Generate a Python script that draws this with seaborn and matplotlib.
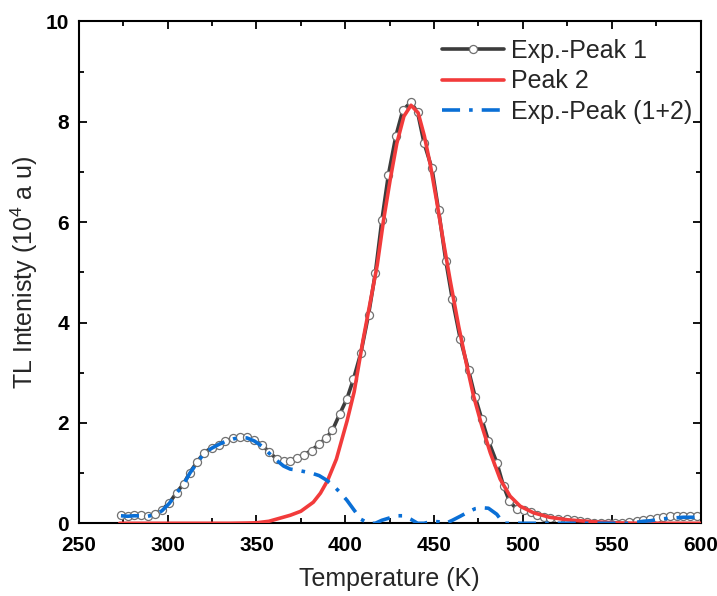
import numpy as np
import pandas as pd
import matplotlib
matplotlib.use("Agg")
import matplotlib.pyplot as plt
import seaborn as sns
from matplotlib.ticker import MultipleLocator

# ---- data ----
temp_exp = [273.7, 277.5, 281.0, 285.0, 288.7, 293.0, 296.8, 301.0, 305.0, 309.0,
            312.5, 316.5, 320.6, 325.0, 328.7, 332.4, 336.8, 340.9, 344.7, 348.8,
            353.3, 357.0, 361.5, 365.3, 369.0, 372.8, 376.9, 381.0, 385.3, 389.0,
            392.7, 396.9, 400.9, 404.6, 408.8, 413.1, 416.9, 420.6, 424.3, 428.5,
            432.4, 436.9, 440.7, 444.4, 448.8, 452.5, 456.6, 460.3, 464.7, 469.4,
            473.1, 476.9, 480.6, 485.3, 489.1, 492.4, 496.6, 500.7, 504.6, 508.2,
            511.6, 515.5, 519.5, 524.7, 528.5, 532.0, 536.0, 540.0, 544.0, 548.0,
            552.0, 556.0, 560.0, 564.0, 567.8, 571.6, 575.4, 579.1, 582.9, 586.6,
            590.4, 594.1, 597.9]

exp_peak1 = [0.16, 0.15, 0.16, 0.17, 0.15, 0.18, 0.27, 0.41, 0.61, 0.79,
             1.01, 1.22, 1.41, 1.51, 1.57, 1.64, 1.69, 1.71, 1.71, 1.65,
             1.56, 1.42, 1.28, 1.24, 1.25, 1.30, 1.37, 1.45, 1.58, 1.69,
             1.85, 2.18, 2.48, 2.87, 3.40, 4.16, 4.98, 6.04, 6.95, 7.72,
             8.23, 8.39, 8.19, 7.57, 7.07, 6.24, 5.23, 4.46, 3.68, 3.05,
             2.52, 2.07, 1.64, 1.21, 0.74, 0.44, 0.28, 0.26, 0.23, 0.17,
             0.13, 0.10, 0.08, 0.09, 0.07, 0.04, 0.02, 0.01, 0.00, 0.00,
             0.00, 0.01, 0.03, 0.05, 0.07, 0.08, 0.11, 0.13, 0.14, 0.15,
             0.15, 0.15, 0.14]

exp_peak12 = [0.15, 0.14, 0.15, 0.15, 0.14, 0.17, 0.25, 0.40, 0.60, 0.78,
              1.00, 1.20, 1.40, 1.50, 1.57, 1.63, 1.68, 1.71, 1.70, 1.64,
              1.53, 1.40, 1.25, 1.14, 1.08, 1.06, 1.03, 1.00, 0.95, 0.87,
              0.77, 0.62, 0.46, 0.28, 0.08, 0.00, 0.00, 0.06, 0.10, 0.15,
              0.15, 0.08, 0.00, 0.00, 0.04, 0.03, 0.00, 0.06, 0.14, 0.23,
              0.29, 0.31, 0.30, 0.18, 0.00, 0.00, 0.00, 0.00, 0.00, 0.00,
              0.00, 0.00, 0.00, 0.00, 0.00, 0.00, 0.00, 0.00, 0.00, 0.00,
              0.00, 0.00, 0.00, 0.02, 0.04, 0.05, 0.07, 0.09, 0.10, 0.11,
              0.12, 0.12, 0.12]

temp_fit = [273.0, 300.0, 320.0, 335.0, 345.0, 350.0, 357.0, 363.0, 369.0, 375.0,
            382.0, 386.0, 390.0, 395.0, 401.0, 405.0, 410.0, 414.0, 418.0, 421.5,
            425.3, 429.0, 433.0, 437.0, 441.0, 444.5, 448.0, 451.6, 455.3, 459.1,
            463.8, 468.5, 472.2, 476.9, 481.6, 487.2, 492.8, 498.5, 505.9, 515.0,
            525.0, 532.0, 540.0, 551.0, 565.0, 600.0]
peak2 = [0.00, 0.00, 0.00, 0.00, 0.005, 0.01, 0.04, 0.10, 0.16, 0.24,
         0.42, 0.60, 0.85, 1.28, 2.04, 2.62, 3.65, 4.40, 5.15, 6.03,
         6.85, 7.57, 8.11, 8.33, 8.18, 7.72, 7.12, 6.39, 5.60, 4.83,
         3.93, 3.13, 2.54, 1.94, 1.41, 0.88, 0.54, 0.34, 0.21, 0.12,
         0.07, 0.05, 0.03, 0.01, 0.00, 0.00]

x_ticks = [250, 300, 350, 400, 450, 500, 550, 600]
y_ticks = [0, 2, 4, 6, 8, 10]

df_exp = pd.DataFrame({"T": temp_exp, "I": exp_peak1, "D": exp_peak12})
df_fit = pd.DataFrame({"T": temp_fit, "I": peak2})

sns.set_style("ticks")
plt.rcParams["font.family"] = ["Liberation Sans", "DejaVu Sans"]
plt.rcParams["mathtext.fontset"] = "custom"
plt.rcParams["mathtext.rm"] = "Liberation Sans"

fig = plt.figure(figsize=(7.17, 5.96), dpi=100)
ax = fig.add_axes([0.110, 0.122, 0.867, 0.842])

sns.lineplot(data=df_exp, x="T", y="I", ax=ax, color="#3c3c3c", linewidth=2.6,
             marker="o", markersize=5.8, markerfacecolor="white",
             markeredgecolor="#707070", markeredgewidth=0.9,
             label="Exp.-Peak 1", zorder=2)
sns.lineplot(data=df_fit, x="T", y="I", ax=ax, color="#f23b3b", linewidth=2.6,
             label="Peak 2", zorder=3)
sns.lineplot(data=df_exp, x="T", y="D", ax=ax, color="#0a6fd6", linewidth=2.6,
             linestyle=(0, (5, 2.5, 1, 2.5)), label="Exp.-Peak (1+2)", zorder=4)

ax.set_xlim(250, 600)
ax.set_ylim(0, 10)
ax.set_xticks(x_ticks)
ax.set_yticks(y_ticks)
ax.xaxis.set_minor_locator(MultipleLocator(25))
ax.yaxis.set_minor_locator(MultipleLocator(1))
ax.tick_params(which="both", direction="in", top=True, right=True, width=1.3,
               colors="black")
ax.tick_params(which="major", length=6, labelsize=15)
ax.tick_params(axis="x", which="major", pad=9)
ax.tick_params(axis="y", which="major", pad=7)
ax.tick_params(which="minor", length=3.5)
for lab in ax.get_xticklabels() + ax.get_yticklabels():
    lab.set_fontweight("bold")
for s in ax.spines.values():
    s.set_linewidth(1.5)
    s.set_color("black")

ax.set_xlabel("Temperature (K)", fontsize=18, labelpad=9)
ax.set_ylabel(r"TL Intenisty (10$^{4}$ a u)", fontsize=18, labelpad=4)

leg = ax.legend(loc="upper right", bbox_to_anchor=(1.015, 1.0), frameon=False,
                fontsize=18, handlelength=2.45, handletextpad=0.3,
                labelspacing=0.26, borderaxespad=0.3)

fig.savefig("out.png", dpi=100)
